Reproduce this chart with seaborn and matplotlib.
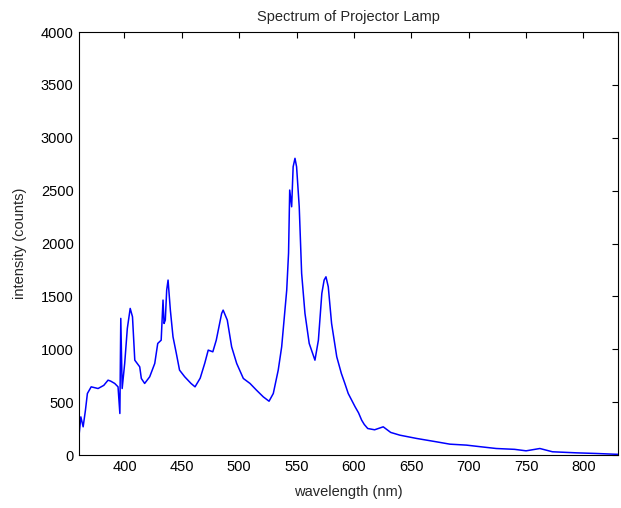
import numpy as np
import pandas as pd
import seaborn as sns
import matplotlib
matplotlib.use("Agg")
import matplotlib.pyplot as plt

wavelength = [360, 362, 364, 366, 367.7, 371, 377, 382, 385.7, 388, 391.5, 394.4, 396,
              396.8, 398, 400.2, 402.5, 405, 407, 409, 413.3, 414.7, 417.6, 422, 426.4,
              429, 432, 433.6, 434.5, 435.6, 436.8, 438, 440, 442.3, 445.2, 448, 452.5,
              458, 461.5, 466, 470, 473, 477, 480, 484.7, 486, 489.6, 493.4, 497.8,
              503.6, 509.4, 515, 521, 526, 529.7, 534, 537, 541.4, 543, 544, 545.7,
              547, 548.6, 550, 552.3, 554.4, 557.3, 561, 566, 569, 572, 574, 575.6,
              577.6, 580.5, 585, 589, 592, 595, 598, 601, 604, 606.7, 609, 612, 618,
              625.5, 632, 640, 654.6, 672, 683.6, 698, 710, 724, 740, 750, 762, 773,
              794, 811, 827, 830]
intensity = [142, 362, 268, 425, 583, 646, 630, 660, 709, 700, 678, 646, 394,
             1293, 630, 867, 1198, 1387, 1308, 898, 835, 725, 678, 741, 867,
             1056, 1087, 1466, 1245, 1277, 1560, 1655, 1371, 1119, 962, 804, 741,
             678, 646, 728, 870, 993, 977, 1087, 1340, 1371, 1277, 1024, 867,
             725, 678, 615, 551, 510, 583, 804, 1024, 1560, 1910, 2506, 2348,
             2726, 2806, 2726, 2348, 1718, 1340, 1056, 898, 1087, 1529, 1655, 1686,
             1592, 1245, 930, 773, 680, 583, 520, 457, 400, 331, 290, 252, 240,
             268, 215, 189, 158, 126, 104, 95, 80, 63, 55, 41, 63, 32,
             22, 16, 9, 8]

df = pd.DataFrame({"wavelength": wavelength, "intensity": intensity})

sns.set_style("white")
plt.rcParams["font.family"] = ["Liberation Sans", "DejaVu Sans"]

fig = plt.figure(figsize=(6.21, 5.08), dpi=100)
ax = fig.add_axes([0.1265, 0.104, 0.8685, 0.833])
sns.lineplot(data=df, x="wavelength", y="intensity", color="#0000ff", linewidth=1.1, ax=ax)

ax.set_xlim(360, 830)
ax.set_ylim(0, 4000)
ax.set_xticks(np.arange(400, 801, 50))
ax.set_yticks(np.arange(0, 4001, 500))
ax.tick_params(direction="in", top=True, right=True, length=4, width=0.8,
               labelsize=10.5, colors="black")
for s in ax.spines.values():
    s.set_color("black")
    s.set_linewidth(0.8)
ax.set_xlabel("wavelength (nm)", fontsize=10.5, labelpad=8)
ax.set_ylabel("intensity (counts)", fontsize=10.5, labelpad=10)
ax.set_title("Spectrum of Projector Lamp", fontsize=10.5, pad=8)

fig.savefig("out.png", dpi=100)
